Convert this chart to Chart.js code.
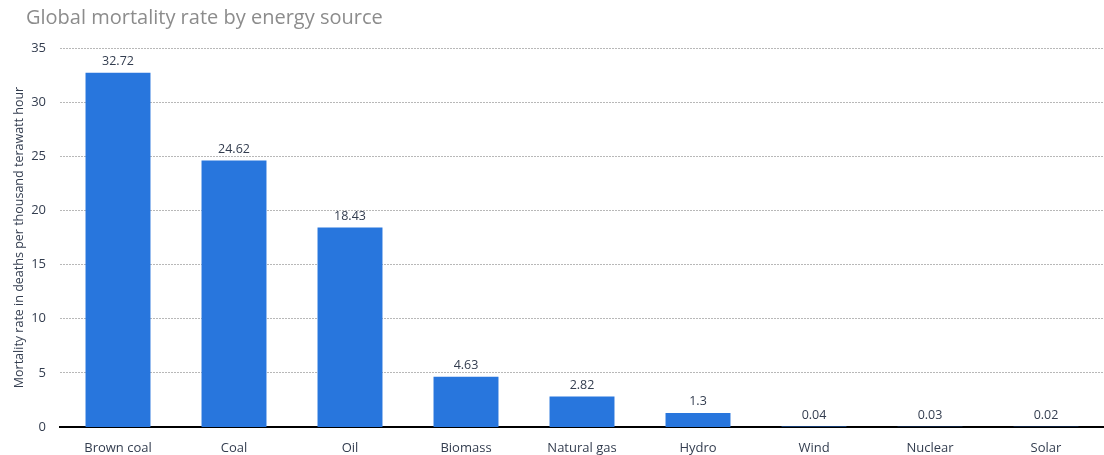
<!DOCTYPE html>
<html>
<head>
<meta charset="utf-8">
<script src="https://cdn.jsdelivr.net/npm/chart.js@4/dist/chart.umd.min.js"></script>
<style>
  html, body { margin: 0; padding: 0; background: #fff; }
  #wrap { width: 1104px; height: 455px; position: relative; }
</style>
</head>
<body>
<div id="wrap"><canvas id="c"></canvas></div>
<script>
// Mortality per thousand TWh, by energy source
const categories = ['Brown coal', 'Coal', 'Oil', 'Biomass', 'Natural gas', 'Hydro', 'Wind', 'Nuclear', 'Solar'];
const mortality = [32.72, 24.62, 18.43, 4.63, 2.82, 1.3, 0.04, 0.03, 0.02];
const yTicks = [0, 5, 10, 15, 20, 25, 30, 35];

const FONT = "'Open Sans', 'Noto Sans', sans-serif";
const TEXT = '#333d4f';

// Title drawn at the top-left of the canvas
const titlePlugin = {
  id: 'titleText',
  afterDraw(chart) {
    const ctx = chart.ctx;
    ctx.save();
    ctx.font = `20px ${FONT}`;
    ctx.fillStyle = '#8c8c8c';
    ctx.textBaseline = 'middle';
    ctx.textAlign = 'left';
    ctx.fillText('Global mortality rate by energy source', 26, 18);
    ctx.restore();
  }
};

// Value labels above each bar
const valueLabels = {
  id: 'valueLabels',
  afterDatasetsDraw(chart) {
    const ctx = chart.ctx;
    const meta = chart.getDatasetMeta(0);
    ctx.save();
    ctx.font = `12.5px ${FONT}`;
    ctx.fillStyle = TEXT;
    ctx.textAlign = 'center';
    ctx.textBaseline = 'bottom';
    meta.data.forEach((bar, i) => {
      ctx.fillText(String(mortality[i]), bar.x, bar.y - 5);
    });
    ctx.restore();
  }
};

new Chart(document.getElementById('c'), {
  type: 'bar',
  data: {
    labels: categories,
    datasets: [{
      data: mortality,
      backgroundColor: '#2876dd',
      barPercentage: 0.56,
      categoryPercentage: 1.0
    }]
  },
  options: {
    responsive: true,
    maintainAspectRatio: false,
    animation: false,
    devicePixelRatio: 1,
    layout: { padding: { top: 48, right: 0, left: 0, bottom: 0 } },
    plugins: {
      legend: { display: false },
      tooltip: { enabled: false }
    },
    scales: {
      x: {
        grid: { display: false, drawTicks: false },
        border: { display: true, color: '#000', width: 2 },
        ticks: { color: TEXT, font: { family: FONT, size: 13 }, padding: 13 },
        afterFit(s) { s.height = 28; }
      },
      y: {
        min: 0,
        max: 35,
        afterBuildTicks(s) { s.ticks = yTicks.map(v => ({ value: v })); },
        grid: { color: '#b8b8b8', drawTicks: false,
                lineWidth: (c) => c.tick && c.tick.value === 0 ? 0 : 1 },
        border: { display: false, dash: [2, 1] },
        ticks: { color: TEXT, font: { family: FONT, size: 13 }, padding: 14 },
        title: {
          display: true,
          text: 'Mortality rate in deaths per thousand terawatt hour',
          color: TEXT,
          font: { family: FONT, size: 12.5 },
          padding: { top: 12, bottom: 0 }
        },
        afterFit(s) { s.width = 60; }
      }
    }
  },
  plugins: [titlePlugin, valueLabels]
});
</script>
</body>
</html>
